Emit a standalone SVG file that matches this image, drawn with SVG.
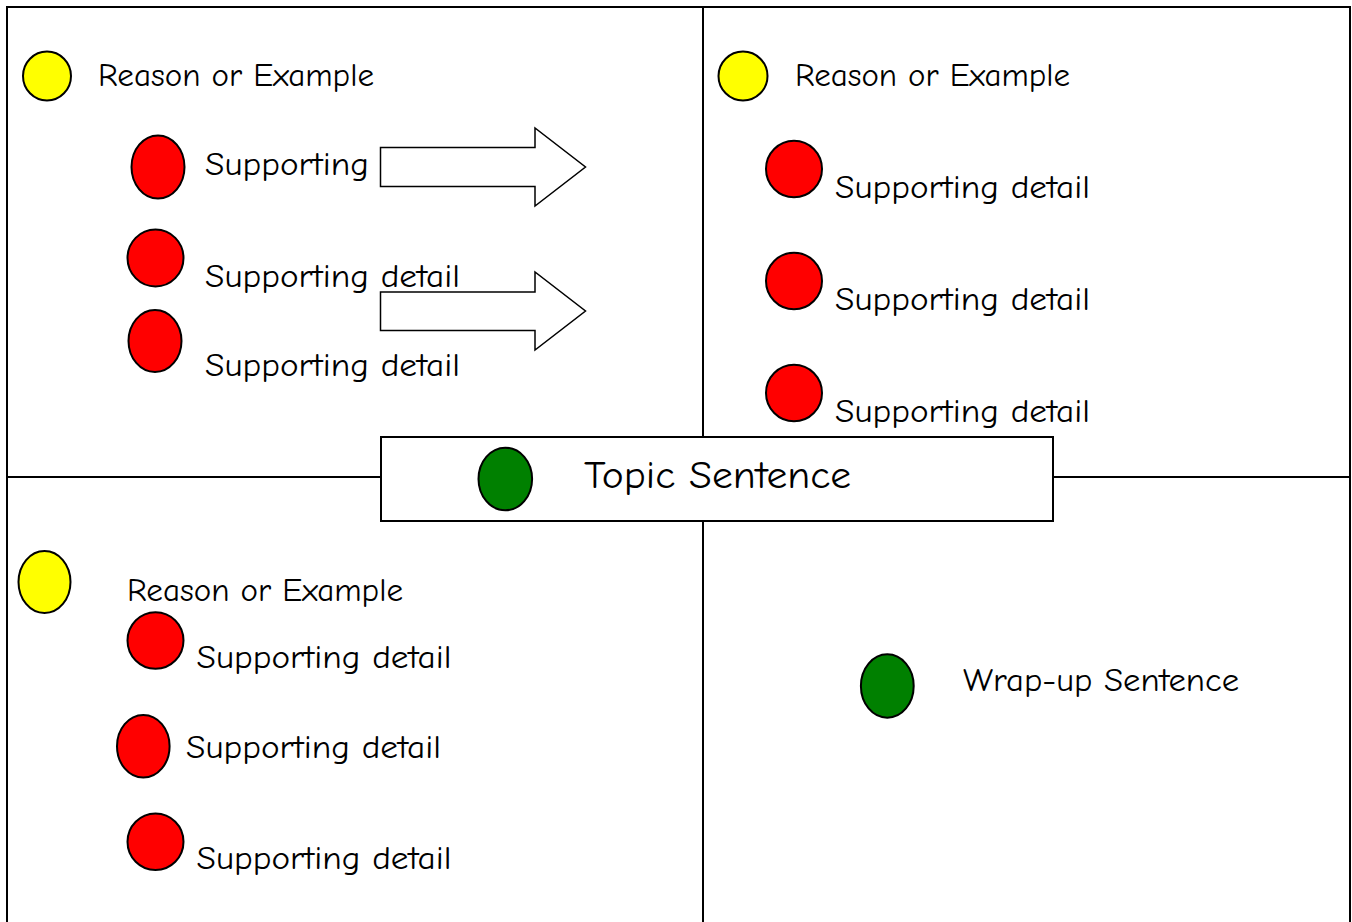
<svg xmlns="http://www.w3.org/2000/svg" width="1352" height="922" viewBox="0 0 1352 922">
<style>
.t{font-family:"Comic Sans MS","Comic Neue","Open Sans","DejaVu Sans",sans-serif;font-size:33px;fill:#000}
.big{font-size:39px}
.dot{stroke:#000;stroke-width:2}
.y{fill:#ffff00}.r{fill:#ff0000}.g{fill:#008000}
.frame{stroke:#000;stroke-width:2;fill:none}
.arrow{fill:#fff;stroke:#000;stroke-width:1.5}
</style>
<rect width="1352" height="922" fill="#fff"/>
<g id="frame">
<path class="frame" d="M7,922 V7 H1350 V922 M703,7 V437 M703,521 V922 M7,477 H381 M1053,477 H1350"/>
</g>
<g id="q1">
<ellipse class="dot y" cx="47" cy="76" rx="24" ry="24.5"/>
<text class="t" x="98" y="86" textLength="276" lengthAdjust="spacingAndGlyphs">Reason or Example</text>
<ellipse class="dot r" cx="158" cy="167" rx="26.5" ry="31.5"/>
<text class="t" x="205" y="175" textLength="255" lengthAdjust="spacingAndGlyphs">Supporting detail</text>
<ellipse class="dot r" cx="155.5" cy="258" rx="28" ry="28.5"/>
<text class="t" x="205" y="286.5" textLength="255" lengthAdjust="spacingAndGlyphs">Supporting detail</text>
<ellipse class="dot r" cx="155" cy="341" rx="26.5" ry="31"/>
<text class="t" x="205" y="376" textLength="255" lengthAdjust="spacingAndGlyphs">Supporting detail</text>
</g>
<g id="connectors">
<path class="arrow" d="M380.5,147.5 H535 V128 L585.5,167 L535,206 V186.5 H380.5 Z"/>
<path class="arrow" d="M380.5,292 H535 V272 L585.5,311 L535,350 V330.5 H380.5 Z"/>
</g>
<g id="q2">
<ellipse class="dot y" cx="743" cy="76" rx="24.5" ry="24.5"/>
<text class="t" x="795" y="86" textLength="275" lengthAdjust="spacingAndGlyphs">Reason or Example</text>
<ellipse class="dot r" cx="794" cy="169" rx="28" ry="28.3"/>
<text class="t" x="835" y="198" textLength="255" lengthAdjust="spacingAndGlyphs">Supporting detail</text>
<ellipse class="dot r" cx="794" cy="281" rx="28" ry="28.3"/>
<text class="t" x="835" y="310" textLength="255" lengthAdjust="spacingAndGlyphs">Supporting detail</text>
<ellipse class="dot r" cx="794" cy="393" rx="28" ry="28.3"/>
<text class="t" x="835" y="422" textLength="255" lengthAdjust="spacingAndGlyphs">Supporting detail</text>
</g>
<g id="q3">
<ellipse class="dot y" cx="44.5" cy="582" rx="26" ry="31"/>
<text class="t" x="127" y="601" textLength="276" lengthAdjust="spacingAndGlyphs">Reason or Example</text>
<ellipse class="dot r" cx="155.5" cy="640.5" rx="28" ry="28.3"/>
<text class="t" x="196.5" y="667.5" textLength="255" lengthAdjust="spacingAndGlyphs">Supporting detail</text>
<ellipse class="dot r" cx="143.3" cy="746.3" rx="26.3" ry="31.3"/>
<text class="t" x="186" y="757.5" textLength="255" lengthAdjust="spacingAndGlyphs">Supporting detail</text>
<ellipse class="dot r" cx="155.5" cy="841.7" rx="28" ry="28.3"/>
<text class="t" x="196.5" y="869" textLength="255" lengthAdjust="spacingAndGlyphs">Supporting detail</text>
</g>
<g id="wrapup">
<ellipse class="dot g" cx="887.3" cy="686" rx="26.4" ry="31.7"/>
<text class="t" x="963" y="691" textLength="276" lengthAdjust="spacingAndGlyphs">Wrap-up Sentence</text>
</g>
<g id="topic">
<rect x="381" y="437" width="672" height="84" fill="#fff" stroke="#000" stroke-width="2"/>
<ellipse class="dot g" cx="505.3" cy="479" rx="26.8" ry="31.3"/>
<text class="t big" x="584" y="488" textLength="267" lengthAdjust="spacingAndGlyphs">Topic Sentence</text>
</g>
</svg>
